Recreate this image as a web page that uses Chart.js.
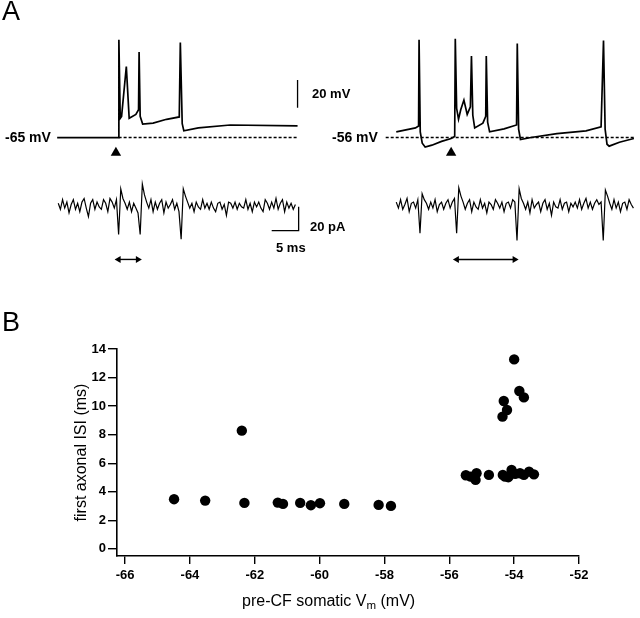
<!DOCTYPE html>
<html>
<head>
<meta charset="utf-8">
<script src="https://cdn.jsdelivr.net/npm/chart.js@4.4.0/dist/chart.umd.min.js"></script>
<style>
  body { margin: 0; background: #fff; }
  #fig { position: relative; width: 640px; height: 618px; overflow: hidden;
         font-family: "Liberation Sans", Arial, Helvetica, sans-serif; color: #000; }
  canvas { position: absolute; }
  .lbl { position: absolute; line-height: 1; white-space: nowrap; }
  .lbl sub { font-size: 0.72em; vertical-align: -0.3em; line-height: 0; }
</style>
</head>
<body>
<div id="fig">
  <canvas id="aLeft" width="320" height="300" style="left:0;top:0"></canvas>
  <canvas id="aRight" width="320" height="300" style="left:320px;top:0"></canvas>
  <canvas id="bChart" width="640" height="318" style="left:0;top:300px"></canvas>

  <div class="lbl" style="left:2px;top:-2px;font-size:27px">A</div>
  <div class="lbl" style="left:2px;top:309px;font-size:27px">B</div>
  <div class="lbl" style="left:5px;top:130px;font-size:14px;font-weight:bold">-65 mV</div>
  <div class="lbl" style="left:332px;top:130px;font-size:14px;font-weight:bold">-56 mV</div>
  <div class="lbl" style="left:312px;top:87px;font-size:13px;font-weight:bold">20 mV</div>
  <div class="lbl" style="left:310px;top:220px;font-size:13px;font-weight:bold">20 pA</div>
  <div class="lbl" style="left:276px;top:241px;font-size:13px;font-weight:bold">5 ms</div>
  <div class="lbl" style="left:242px;top:593px;font-size:16px">pre-CF somatic V<sub>m</sub> (mV)</div>
</div>

<script>
// panel A: somatic voltage, [ms from CF stimulus, mV]
const leftVm = [
  [-11.4, -65], [0, -65], [0.05, 5.3], [0.3, -51.2], [0.55, -49.8], [1.43, -14],
  [1.96, -51.2], [3.2, -48.4], [3.7, -45], [3.8, -3.6], [4.0, -49.8], [4.46, -55.3],
  [6.4, -54.7], [8.9, -51.9], [11.25, -50.2], [11.45, 3.3], [11.8, -55], [12.1, -60.2],
  [14.8, -58.1], [20.7, -56], [33.2, -56.7]
];
const rightVm = [
  [-10, -51.9], [-6.43, -49.1], [-5.86, -47.7], [-5.77, 14.3], [-5.55, -52], [-5.18, -60.1],
  [-4.64, -62.9], [-3.39, -61.5], [-1.6, -58.8], [0.18, -56.7], [0.84, -55.3], [0.95, 15],
  [1.2, -35], [1.55, -42.9], [1.96, -36], [2.55, -29.1], [3.16, -39.4], [3.75, -33.9],
  [3.95, 2.6], [4.2, -40], [4.55, -49.1], [6.07, -45.7], [6.6, -40.8], [6.7, 2.6],
  [6.95, -45], [7.32, -51.9], [10, -49.8], [12.32, -47], [12.45, 11.6], [12.7, -50],
  [13.04, -57.4], [15, -56], [19.8, -53.2], [25.2, -51.2], [28.0, -48.4], [28.45, 13.7],
  [28.75, -50], [29.1, -60.8], [29.5, -62.2], [31.4, -59.4], [34.1, -56.7]
];
const leftRest = -65;
const rightRest = -56;

// panel A: axonal current (pA), sampled every DT ms from the start time
const DT = 0.4;
const leftIStart = -11.2;
const leftIm = [
  2, -3, 5, -2, 3, -6, 1, 5, -3, 2,
  -5, 3, 6, -2, -9, 2, 5, -3, 3, -1,
  -3, 5, 2, -5, 6, 3, -2, 5,
  -24, 14,
  6, 2, -3, 3, -5, 2, -2, -6,
  -24, 18,
  9, 3, -2, 5, -5, 3, -3, 2, 5, -6, 3, -2, 1, 5, -3, 2, -5,
  -28, 14,
  8, 3, -2, 2, -5, 3, -1, -3, 5, -2, 2, -3, 3, -2, -5, 2, 3, -3, 1, -8,
  3, 2, -2, 3, -3, 2, -1, -2, 5, -3, 2, -5, 3, -1, 3, -2, -5, 5, 2, -3,
  3, -2, 6, -3, 2, 5, -5, 3, -2, 2, -3, 1
];
const rightIStart = -10;
const rightIm = [
  3, -2, 5, -3, 1, 6, -5, 2, 3, -2, 5,
  -23, 10,
  5, 2, -3, 3, -2, 5, -5, 1, 3, -3, 2, 5, -2, 3, 6,
  -23, 15,
  8, 3, -3, 2, 5, -5, 3, -1, -3, 5, -2, 2, -6, 3, 1, -3, 5, 2, -2, 3, -5, 2, 3, -2, 5, 3,
  -29, 14,
  6, 2, -3, 3, -6, 5, -2, 1, 3, -5, 2, 5, -3, 2, -8, 3, -1, -2, 5, -3,
  2, 3, -5, 2, -1, 3, -2, 5, -3, 2, 6, -2, 3, -3, 2, 5, 1, 3,
  -29, 13,
  8, 2, -3, 5, -2, 3, -5, 2, 3, -3, 5, 1, -2
];

// stimulus marks and first axonal ISI arrows (ms)
const leftStim = -0.5;
const rightStim = 0.18;
const leftIsi = [0, 3.57];
const rightIsi = [1.25, 11.96];

// scale bars: 20 mV, 20 pA, 5 ms
const barMv = [[33.2, -23.6], [33.2, -43.6]];
const barPa = [[33.4, -0.8], [33.4, -20.8], [28.4, -20.8]];

// panel B
const bX = [-64.49, -63.53, -62.4, -62.32, -61.29, -61.13, -60.6, -60.27, -59.99, -59.24,
            -58.18, -57.8, -55.49, -55.34, -55.16, -55.19, -54.78, -54.35, -54.28, -54.18,
            -54.08, -53.97, -53.82, -53.7, -53.54, -53.39, -54.36, -54.22, -54.32, -53.84,
            -53.7, -54.0];
const bY = [3.48, 3.38, 8.28, 3.22, 3.24, 3.15, 3.22, 3.06, 3.2, 3.15,
            3.08, 3.01, 5.16, 5.06, 5.3, 4.83, 5.18, 5.18, 5.06, 5.02,
            5.53, 5.25, 5.3, 5.18, 5.41, 5.22, 9.26, 9.73, 10.36, 11.06,
            10.61, 13.27];
const xTicks = [-66, -64, -62, -60, -58, -56, -54, -52];
const yTicks = [0, 2, 4, 6, 8, 10, 12, 14];

Chart.defaults.font.family = '"Liberation Sans", Arial, Helvetica, sans-serif';
Chart.defaults.color = '#000';

const pairs = arr => arr.map(([x, y]) => ({ x, y }));
const sampled = (vals, t0) => vals.map((y, k) => ({ x: t0 + k * DT, y }));

function line(data, axis, extra) {
  return Object.assign({ data, yAxisID: axis, borderColor: '#000', borderWidth: 1.3,
                         pointRadius: 0, fill: false, tension: 0 }, extra || {});
}

function traceChart(id, xMin, xMax, vMin, vMax, datasets) {
  return new Chart(document.getElementById(id), {
    type: 'line',
    data: { datasets },
    options: {
      responsive: false,
      animation: false,
      devicePixelRatio: 1,
      layout: { padding: 0 },
      plugins: { legend: { display: false }, tooltip: { enabled: false } },
      scales: {
        x: { type: 'linear', display: false, min: xMin, max: xMax },
        v: { type: 'linear', display: false, min: vMin, max: vMax },
        i: { type: 'linear', display: false, min: -73.6, max: 166.4 }
      }
    }
  });
}

function stimMark(t, v) {
  return { data: [{ x: t, y: v }], yAxisID: 'v', showLine: false, pointStyle: 'triangle',
           pointRadius: 6, pointBackgroundColor: '#000', pointBorderWidth: 0 };
}

function isiArrow(ts) {
  return line(ts.map(x => ({ x, y: -44.8 })), 'i', {
    borderWidth: 1.4, pointStyle: 'triangle', pointRadius: 4, pointRotation: [-90, 90],
    pointBackgroundColor: '#000', pointBorderWidth: 0
  });
}

traceChart('aLeft', -20.893, 36.25, -177.4, 29.48, [
  line(pairs(leftVm), 'v', { borderWidth: 1.7 }),
  line([{ x: 0, y: leftRest }, { x: 33.2, y: leftRest }], 'v', { borderWidth: 1.4, borderDash: [3, 2] }),
  line(sampled(leftIm, leftIStart), 'i', { borderWidth: 1.2 }),
  stimMark(leftStim, -76),
  isiArrow(leftIsi),
  line(pairs(barMv), 'v', { borderWidth: 1.3 }),
  line(pairs(barPa), 'i', { borderWidth: 1.3 })
]);

traceChart('aRight', -23.036, 34.107, -168.4, 38.48, [
  line(pairs(rightVm), 'v', { borderWidth: 1.7 }),
  line([{ x: -11.96, y: rightRest }, { x: 34.1, y: rightRest }], 'v', { borderWidth: 1.4, borderDash: [3, 2] }),
  line(sampled(rightIm, rightIStart), 'i', { borderWidth: 1.2 }),
  stimMark(rightStim, -67),
  isiArrow(rightIsi)
]);

const tickFont = { size: 13, weight: 'bold' };

new Chart(document.getElementById('bChart'), {
  type: 'scatter',
  data: {
    datasets: [{
      data: bX.map((x, i) => ({ x, y: bY[i] })),
      pointRadius: 5.2,
      pointBackgroundColor: '#000',
      pointBorderWidth: 0
    }]
  },
  options: {
    responsive: false,
    animation: false,
    devicePixelRatio: 1,
    layout: { padding: { top: 49, right: 61, left: 69, bottom: 0 } },
    plugins: { legend: { display: false }, tooltip: { enabled: false } },
    scales: {
      x: {
        type: 'linear', min: -66.25, max: -52,
        afterBuildTicks: s => { s.ticks = xTicks.map(value => ({ value })); },
        afterFit: s => { s.height = 62; },
        grid: { drawOnChartArea: false, tickLength: 8, color: '#000', lineWidth: 1.4 },
        border: { color: '#000', width: 1.6 },
        ticks: { color: '#000', font: tickFont, padding: 4, maxRotation: 0, autoSkip: false }
      },
      y: {
        type: 'linear', min: -0.5, max: 14,
        afterBuildTicks: s => { s.ticks = yTicks.map(value => ({ value })); },
        afterFit: s => { s.width = 48; },
        grid: { drawOnChartArea: false, tickLength: 9, color: '#000', lineWidth: 1.4 },
        border: { color: '#000', width: 1.6 },
        ticks: { color: '#000', font: tickFont, padding: 2, autoSkip: false },
        title: { display: true, text: 'first axonal ISI (ms)', color: '#000',
                 font: { size: 16 }, padding: { top: 3, bottom: 0 } }
      }
    }
  }
});
</script>
</body>
</html>
